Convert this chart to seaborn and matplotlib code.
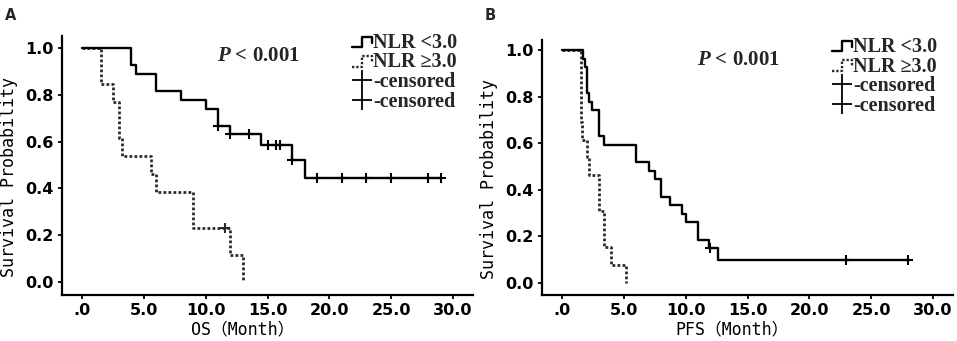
import numpy as np
import pandas as pd
import matplotlib
matplotlib.use("Agg")
from matplotlib import pyplot as plt
from matplotlib.lines import Line2D
from matplotlib.legend_handler import HandlerLine2D
import seaborn as sns

# OS curves
os_times_low = [0, 4.0, 4.4, 6.0, 8.0, 10.0, 11.0, 12.0, 14.5, 17.0, 18.0, 29.0]
os_surv_low = [1.0, 0.926, 0.889, 0.815, 0.778, 0.741, 0.667, 0.630, 0.583, 0.520, 0.444, 0.444]
os_cens_low = [11.0, 12.0, 13.5, 15.0, 15.7, 16.0, 17.0, 19.0, 21.0, 23.0, 25.0, 28.0, 29.0]

os_times_high = [0, 1.5, 2.5, 3.0, 3.2, 5.6, 6.0, 9.0, 12.0, 13.0]
os_surv_high = [1.0, 0.846, 0.769, 0.615, 0.538, 0.462, 0.385, 0.231, 0.115, 0.0]
os_cens_high = [11.6]

# PFS curves
pfs_times_low = [0, 1.7, 1.85, 2.05, 2.2, 2.4, 3.0, 3.4, 6.0, 7.0, 7.5, 8.0, 8.7, 9.7, 10.0, 11.0,
                 11.9, 12.65, 28.0]
pfs_surv_low = [1.0, 0.963, 0.926, 0.815, 0.778, 0.741, 0.630, 0.593, 0.519, 0.481, 0.444, 0.370,
                0.333, 0.296, 0.259, 0.185, 0.148, 0.099, 0.099]
pfs_cens_low = [12.0, 23.0, 28.0]

pfs_times_high = [0, 1.5, 1.6, 2.05, 2.2, 3.0, 3.4, 4.0, 5.2]
pfs_surv_high = [1.0, 0.692, 0.615, 0.538, 0.462, 0.308, 0.154, 0.077, 0.0]
pfs_cens_high = []

group_labels = ["NLR <3.0", "NLR \u22653.0", "-censored", "-censored"]
x_ticks = [0, 5, 10, 15, 20, 25, 30]
x_ticklabels = [".0", "5.0", "10.0", "15.0", "20.0", "25.0", "30.0"]
y_ticks = [0.0, 0.2, 0.4, 0.6, 0.8, 1.0]
y_ticklabels = ["0.0", "0.2", "0.4", "0.6", "0.8", "1.0"]

sns.set_theme(style="ticks")
plt.rcParams["font.family"] = ["DejaVu Sans"]
plt.rcParams["mathtext.fontset"] = "custom"
plt.rcParams["mathtext.bfit"] = "Liberation Serif:italic:bold"
plt.rcParams["mathtext.rm"] = "Liberation Serif:bold"

DOT = (0, (1, 0.8))
LABEL_FONT = ["DejaVu Sans Mono", "Noto Sans CJK SC"]


class StepHandler(HandlerLine2D):
    def create_artists(self, legend, orig_handle, xdescent, ydescent, width, height, fontsize, trans):
        x0, y0 = -xdescent, -ydescent
        xm = x0 + 0.5 * width
        lo, hi = y0 + 0.05 * height, y0 + 0.8 * height
        line = Line2D([x0, xm, xm, x0 + width, x0 + width], [lo, lo, hi, hi, y0 + 0.35 * height])
        self.update_prop(line, orig_handle, legend)
        line.set_transform(trans)
        return [line]


def step_value(times, surv, t):
    idx = np.searchsorted(times, t, side="right") - 1
    return np.asarray(surv)[idx]


def draw_panel(ax, t_low, s_low, c_low, t_high, s_high, c_high, xlabel, xlab_pos, ylim):
    df_high = pd.DataFrame({"time": t_high, "surv": s_high})
    df_low = pd.DataFrame({"time": t_low, "surv": s_low})
    sns.lineplot(data=df_high, x="time", y="surv", drawstyle="steps-post", estimator=None, sort=False,
                 color="#2a2a2a", linewidth=2.0, linestyle=DOT, ax=ax)
    sns.lineplot(data=df_low, x="time", y="surv", drawstyle="steps-post", estimator=None, sort=False,
                 color="black", linewidth=1.7, ax=ax)
    if len(c_high):
        sns.scatterplot(x=c_high, y=step_value(t_high, s_high, c_high), marker="+", s=45,
                        color="#2a2a2a", linewidth=1.5, ax=ax, zorder=3)
    sns.scatterplot(x=c_low, y=step_value(t_low, s_low, c_low), marker="+", s=45,
                    color="black", linewidth=1.5, ax=ax, zorder=3)

    ax.set_xlim(-1.62, 31.62)
    ax.set_ylim(*ylim)
    ax.set_xticks(x_ticks)
    ax.set_xticklabels(x_ticklabels, fontsize=11.5, fontweight="bold")
    ax.set_yticks(y_ticks)
    ax.set_yticklabels(y_ticklabels, fontsize=11.5, fontweight="bold")
    ax.tick_params(direction="out", length=3, width=1.3, pad=3, colors="black")
    sns.despine(ax=ax)
    for sp in ["left", "bottom"]:
        ax.spines[sp].set_linewidth(1.6)
        ax.spines[sp].set_color("black")

    ax.set_xlabel(xlabel, family=LABEL_FONT, fontsize=12, color="black")
    ax.set_ylabel("Survival Probability", family=LABEL_FONT, fontsize=12, color="black")
    ax.xaxis.set_label_coords(xlab_pos, -0.1)
    ax.yaxis.set_label_coords(-0.108, 0.456)

    ax.text(0.377, 0.903, r"$\mathbfit{P}$ < 0.001", transform=ax.transAxes, family="Liberation Serif",
            fontweight="bold", fontsize=15, va="baseline", ha="left")

    handles = [Line2D([], [], color="black", linewidth=1.7),
               Line2D([], [], color="#2a2a2a", linewidth=1.7, linestyle=DOT),
               Line2D([], [], color="black", marker="+", linestyle="none", markersize=14, markeredgewidth=1.3),
               Line2D([], [], color="black", marker="+", linestyle="none", markersize=14, markeredgewidth=1.3)]
    ax.legend(handles, group_labels, loc="upper left", bbox_to_anchor=(0.705, 1.012), frameon=False,
              prop={"family": "Liberation Serif", "weight": "bold", "size": 14.5},
              handlelength=1.0, handletextpad=0.05, labelspacing=-0.02, borderpad=0, borderaxespad=0,
              handler_map={handles[0]: StepHandler(), handles[1]: StepHandler()})


fig = plt.figure(figsize=(9.57, 3.41), dpi=100)
ax_a = fig.add_axes([62 / 957, 46 / 341, 411 / 957, 259 / 341])
ax_b = fig.add_axes([542 / 957, 46 / 341, 411 / 957, 255 / 341])

draw_panel(ax_a, os_times_low, os_surv_low, os_cens_low, os_times_high, os_surv_high, os_cens_high,
           "OS\uff08Month\uff09", 0.44, (-0.056, 1.051))
draw_panel(ax_b, pfs_times_low, pfs_surv_low, pfs_cens_low, pfs_times_high, pfs_surv_high, pfs_cens_high,
           "PFS\uff08Month\uff09", 0.462, (-0.053, 1.043))

fig.text(5 / 957, 1 - 20 / 341, "A", fontsize=10.5, fontweight="bold", va="baseline")
fig.text(485 / 957, 1 - 20 / 341, "B", fontsize=10.5, fontweight="bold", va="baseline")

fig.savefig("out.png", dpi=100, facecolor="white")
